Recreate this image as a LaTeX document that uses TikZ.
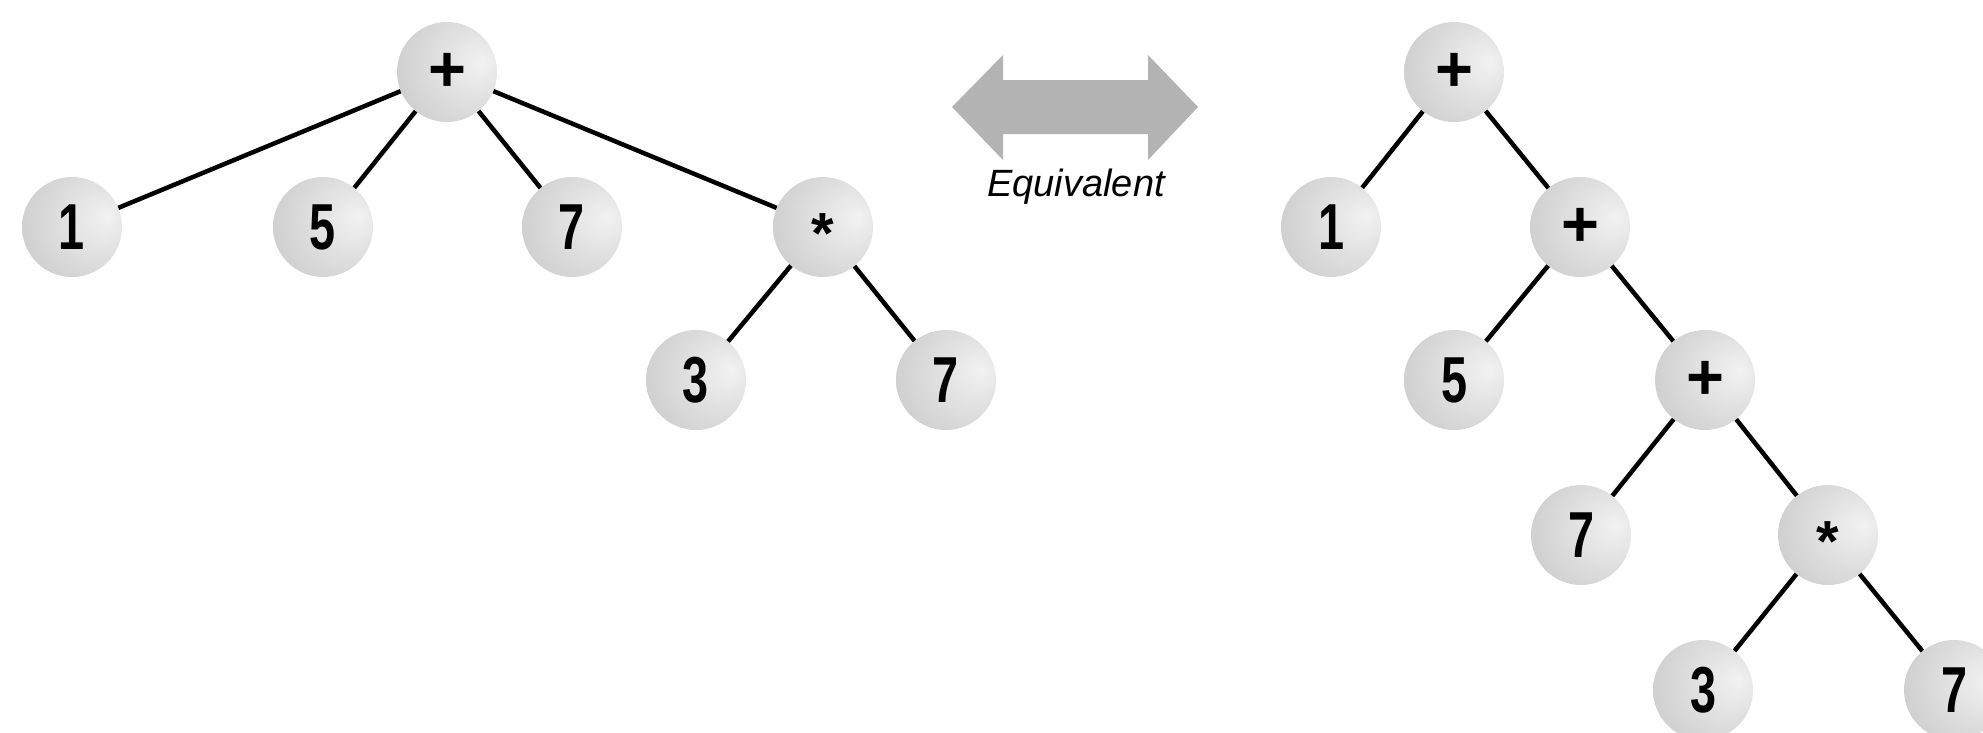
\documentclass[tikz,border=0pt]{standalone}
\usepackage{fontspec}
\setmainfont{Liberation Sans}
\usepackage{graphicx}
\definecolor{sA}{HTML}{F2F2F2}
\definecolor{sB}{HTML}{E8E8E8}
\definecolor{sC}{HTML}{D4D4D4}
\definecolor{sD}{HTML}{C2C2C2}
\definecolor{sE}{HTML}{ACACAC}
\definecolor{arrowgray}{HTML}{B3B3B3}
\pgfdeclareradialshading{sphere}{\pgfpoint{18bp}{5bp}}{color(0bp)=(sA); color(10bp)=(sB); color(30bp)=(sC); color(50bp)=(sD); color(70bp)=(sE)}
\newcommand{\dgt}[1]{\scalebox{0.72}[1]{#1}}
\newcommand{\astk}{\raisebox{-26pt}[0pt][0pt]{\fontsize{58}{58}\selectfont *}}
\tikzset{
  ball/.style={circle, minimum size=100pt, inner sep=0pt, shading=sphere,
    font=\fontsize{65}{65}\selectfont\bfseries},
  edge/.style={line width=4.5pt, black},
  eqtext/.style={font=\fontsize{38}{38}\selectfont\itshape, inner sep=0pt}
}
\begin{document}
\begin{tikzpicture}[x=1pt,y=-1pt]
\useasboundingbox (0,0) rectangle (1983,732);
% left tree
\node[ball] (lp) at (447,72) {+};
\node[ball] (l1) at (72,227) {\dgt{1}};
\node[ball] (l5) at (323,227) {\dgt{5}};
\node[ball] (l7) at (572,227) {\dgt{7}};
\node[ball] (lm) at (823,227) {\astk};
\node[ball] (l3) at (696,380) {\dgt{3}};
\node[ball] (l7b) at (946,380) {\dgt{7}};
\draw[edge] (lp) -- (l1);
\draw[edge] (lp) -- (l5);
\draw[edge] (lp) -- (l7);
\draw[edge] (lp) -- (lm);
\draw[edge] (lm) -- (l3);
\draw[edge] (lm) -- (l7b);
% arrow
\fill[arrowgray] (952,107) -- (1003,55) -- (1003,80) -- (1148,80) -- (1148,55)
  -- (1198,107) -- (1148,160) -- (1148,134) -- (1003,134) -- (1003,160) -- cycle;
\node[eqtext] (eq) at (1076,187) {Equivalent};
% right tree
\node[ball] (r0) at (1454,72) {+};
\node[ball] (r1) at (1331,227) {\dgt{1}};
\node[ball] (rp1) at (1580,227) {+};
\node[ball] (r5) at (1454,380) {\dgt{5}};
\node[ball] (rp2) at (1705,380) {+};
\node[ball] (r7) at (1581,535) {\dgt{7}};
\node[ball] (rm) at (1828,535) {\astk};
\node[ball] (r3) at (1703,690) {\dgt{3}};
\node[ball] (r7b) at (1954,690) {\dgt{7}};
\draw[edge] (r0) -- (r1);
\draw[edge] (r0) -- (rp1);
\draw[edge] (rp1) -- (r5);
\draw[edge] (rp1) -- (rp2);
\draw[edge] (rp2) -- (r7);
\draw[edge] (rp2) -- (rm);
\draw[edge] (rm) -- (r3);
\draw[edge] (rm) -- (r7b);
\end{tikzpicture}
\end{document}
